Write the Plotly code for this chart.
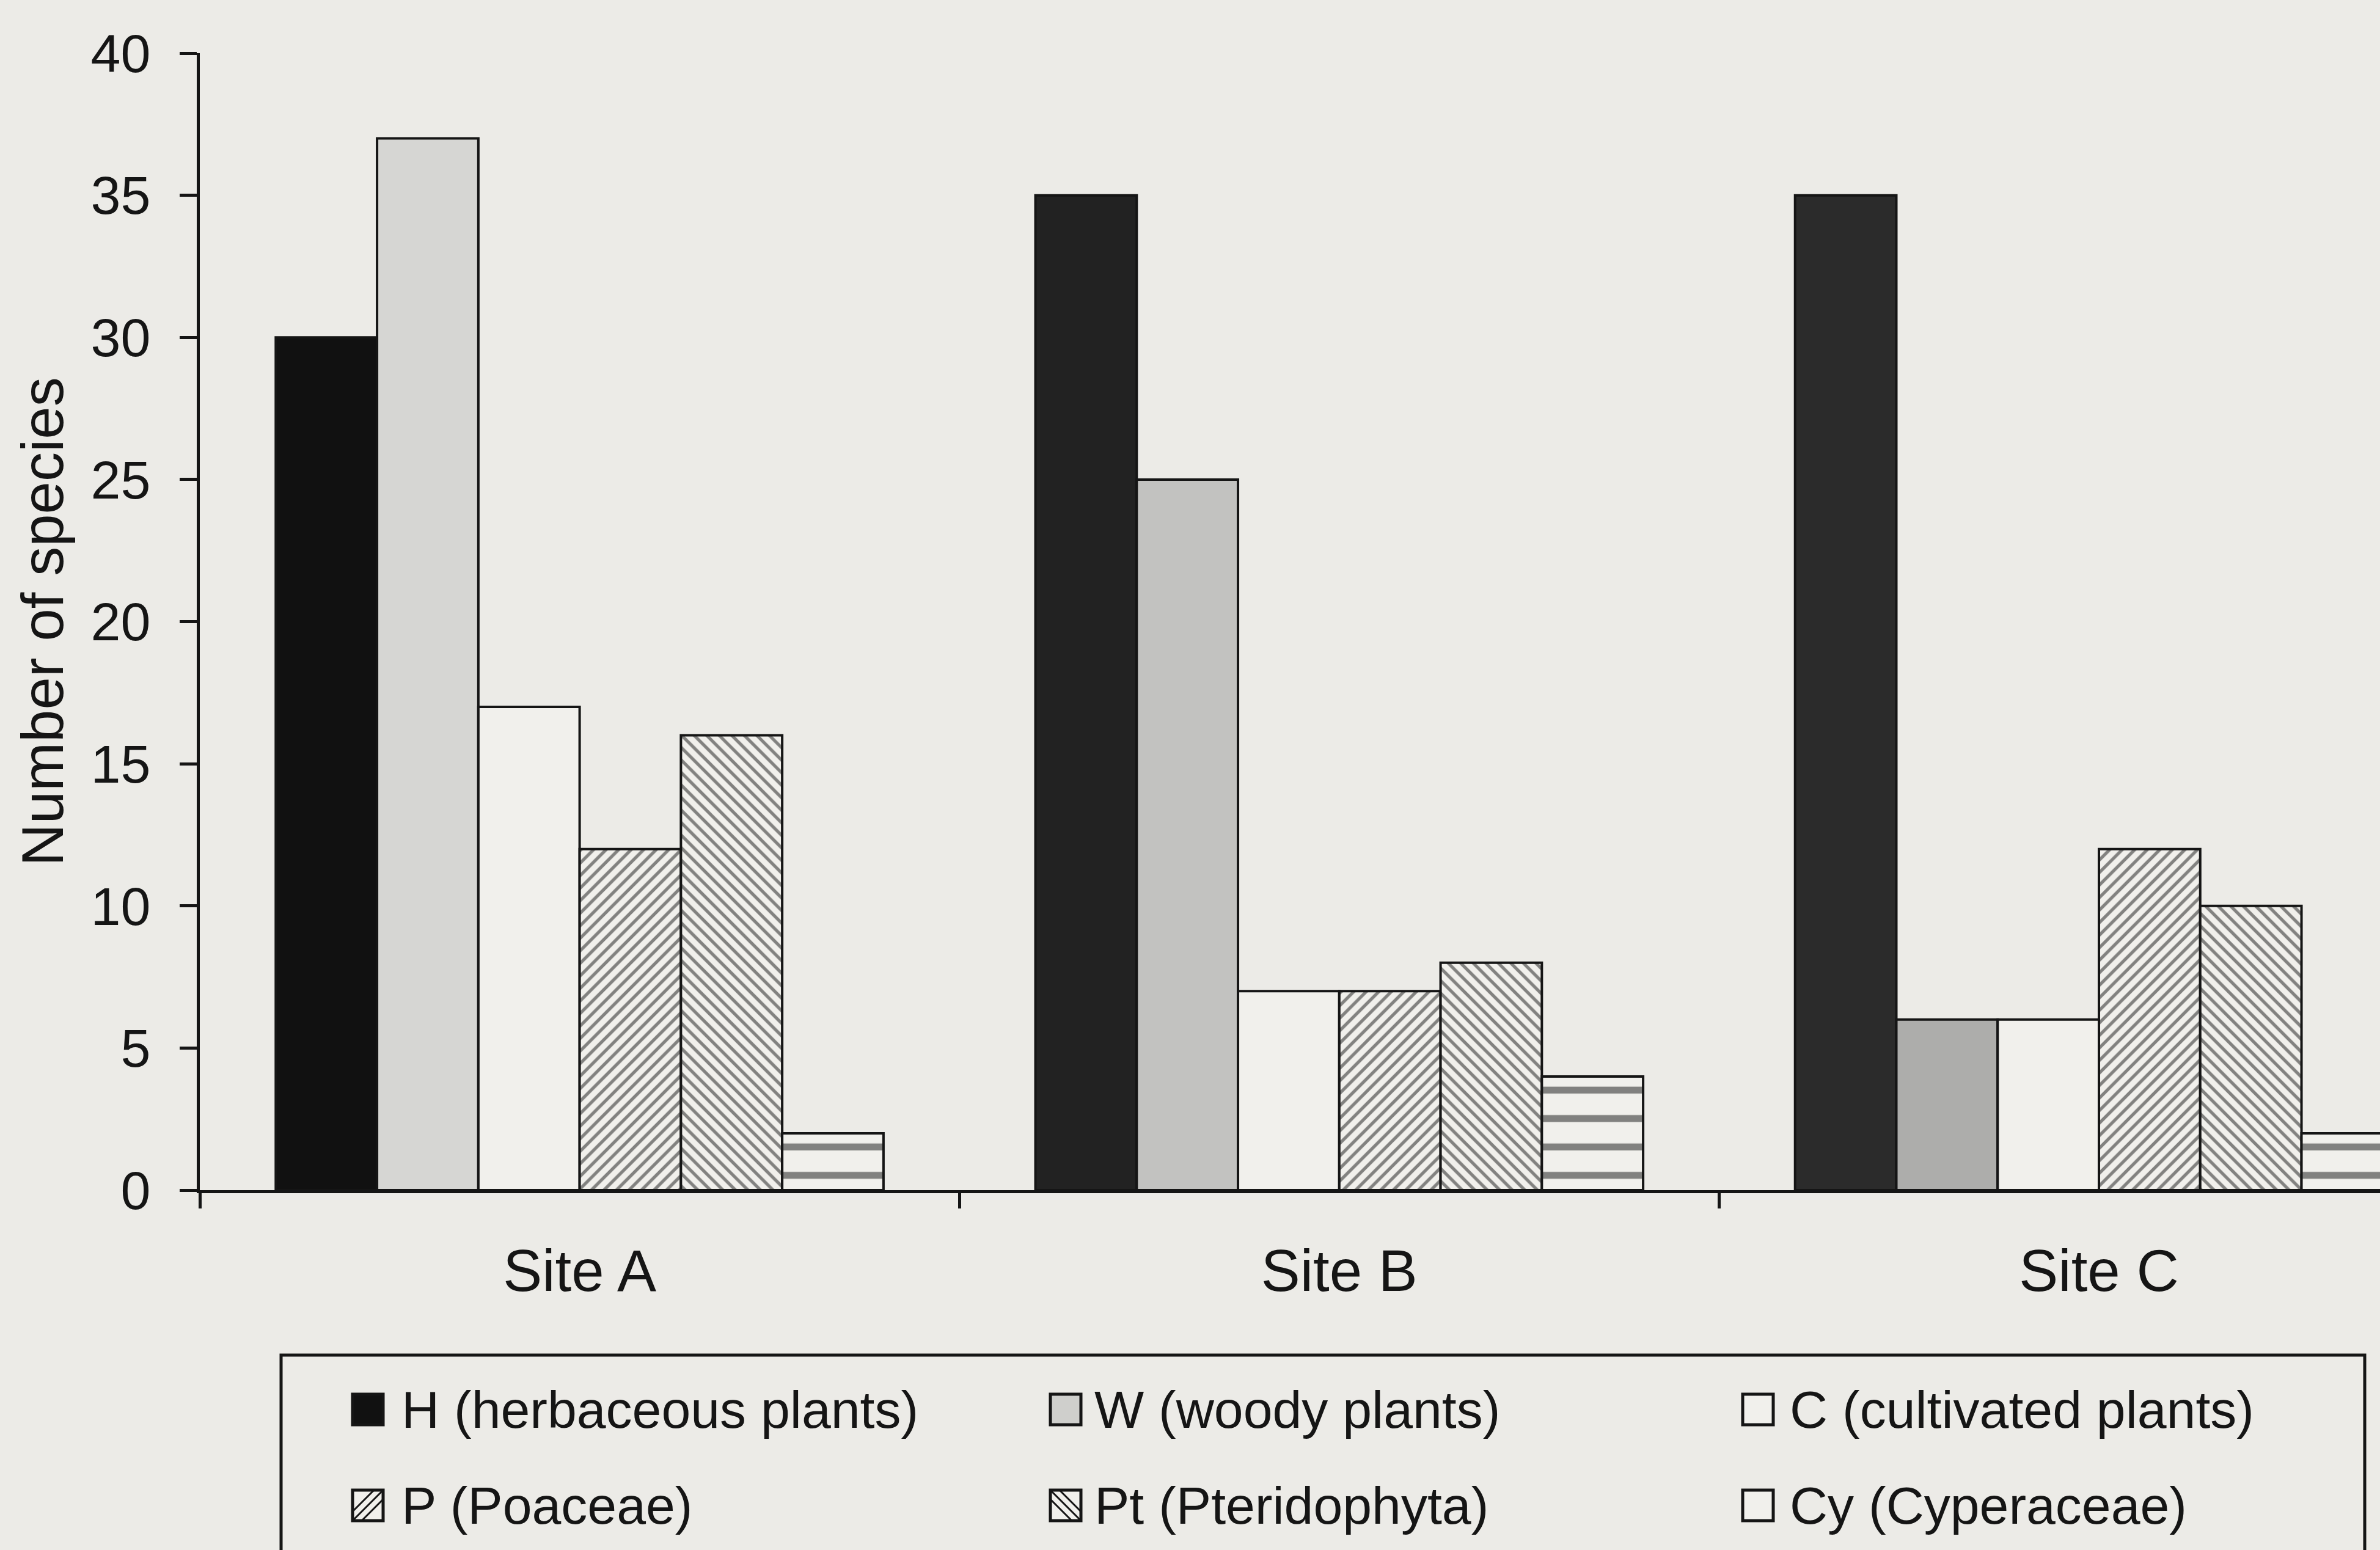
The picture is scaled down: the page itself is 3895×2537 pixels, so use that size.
import plotly.graph_objects as go

# ---- data -------------------------------------------------------------
SITES = ["Site A", "Site B", "Site C"]
GROUP_LABELS = [
    "H (herbaceous plants)",
    "W (woody plants)",
    "C (cultivated plants)",
    "P (Poaceae)",
    "Pt (Pteridophyta)",
    "Cy (Cyperaceae)",
]
H_VALUES = [30, 35, 35]
W_VALUES = [37, 25, 6]
C_VALUES = [17, 7, 6]
P_VALUES = [12, 7, 12]
PT_VALUES = [16, 8, 10]
CY_VALUES = [2, 4, 2]
Y_TICKS = [0, 5, 10, 15, 20, 25, 30, 35, 40]
Y_TITLE = "Number of species"

SERIES = [H_VALUES, W_VALUES, C_VALUES, P_VALUES, PT_VALUES, CY_VALUES]

# ---- page geometry ------------------------------------------------------
W_PX, H_PX = 3895, 2537
M_L, M_R, M_T, M_B = 327, 0, 87, 589
PLOT_W = W_PX - M_L - M_R
PLOT_H = H_PX - M_T - M_B


def px_x(x):
    return (x - M_L) / PLOT_W


def px_y(y):
    return (H_PX - M_B - y) / PLOT_H


BG = "#ecebe7"
LIGHT = "#f1f0ec"
INK = "#151515"
FONT = "Liberation Sans, Arial, sans-serif"

# ---- bar styles -------------------------------------------------------
STYLES = [
    dict(color=["#111111", "#222222", "#2b2b2b"]),
    dict(color=["#d6d6d3", "#c2c2c0", "#adadab"]),
    dict(color=LIGHT),
    dict(color=LIGHT, pattern=dict(shape="/", size=14.5, solidity=0.36,
                                   fgcolor="#141414", bgcolor=LIGHT)),
    dict(color=LIGHT, pattern=dict(shape="\\", size=14.5, solidity=0.36,
                                   fgcolor="#141414", bgcolor=LIGHT)),
    dict(color=LIGHT, pattern=dict(shape="-", size=46.5, solidity=0.24,
                                   fgcolor="#111111", bgcolor=LIGHT)),
]

fig = go.Figure()
for label, values, style in zip(GROUP_LABELS, SERIES, STYLES):
    marker = dict(line=dict(color=INK, width=4), **style)
    fig.add_trace(go.Bar(x=SITES, y=values, name=label, marker=marker,
                         showlegend=False, cliponaxis=True))

x_range = [-0.5, 2.37]
boundaries = [i - 0.5 for i in range(len(SITES))]

fig.update_layout(
    width=W_PX,
    height=H_PX,
    margin=dict(l=M_L, r=M_R, t=M_T, b=M_B, autoexpand=False),
    paper_bgcolor=BG,
    plot_bgcolor=BG,
    barmode="group",
    bargap=0.2,
    bargroupgap=0,
    font=dict(family=FONT, color=INK),
    xaxis=dict(
        type="category",
        categoryorder="array",
        categoryarray=SITES,
        range=x_range,
        showline=True, linecolor=INK, linewidth=5,
        ticks="outside", tickson="boundaries", ticklen=25, tickwidth=5,
        tickcolor=INK,
        tickfont=dict(size=96, family=FONT, color=INK),
        ticklabelstandoff=45,
        showgrid=False, zeroline=False,
    ),
    yaxis=dict(
        range=[0, 40],
        tickmode="array", tickvals=Y_TICKS,
        showline=True, linecolor=INK, linewidth=5,
        ticks="outside", ticklen=28, tickwidth=5, tickcolor=INK,
        tickfont=dict(size=88, family=FONT, color=INK),
        ticklabelstandoff=30,
        title=dict(text=Y_TITLE, font=dict(size=96, family=FONT, color=INK),
                   standoff=14),
        showgrid=False, zeroline=False,
    ),
    # companion axes carrying the inner half of the crossing tick marks
    xaxis2=dict(
        overlaying="x", anchor="y", side="bottom",
        range=x_range, tickmode="array", tickvals=boundaries,
        ticks="inside", ticklen=30, tickwidth=5, tickcolor=INK,
        showticklabels=False, showline=False, showgrid=False, zeroline=False,
    ),
    yaxis2=dict(
        overlaying="y", anchor="x", side="left",
        range=[0, 40], tickmode="array", tickvals=Y_TICKS,
        ticks="inside", ticklen=30, tickwidth=5, tickcolor=INK,
        showticklabels=False, showline=False, showgrid=False, zeroline=False,
    ),
)

# ---- key below the chart ---------------------------------------------
shapes = [
    dict(type="rect", xref="paper", yref="paper",
         x0=px_x(460), x1=px_x(3870), y0=px_y(2218), y1=px_y(2640),
         line=dict(color=INK, width=5), fillcolor="rgba(0,0,0,0)"),
]
annotations = []

col_icon = [577, 1719, 2852]
col_text = [655, 1789, 2927]
row_mid = [2307, 2464]
icon = 50
icon_fill = ["#111111", "#cfcfcc", LIGHT, LIGHT, LIGHT, LIGHT]
icon_hatch = [None, None, None, "/", "\\", None]

for k, label in enumerate(GROUP_LABELS):
    r, c = divmod(k, 3)
    x0, x1 = col_icon[c], col_icon[c] + icon
    y0, y1 = row_mid[r] - icon / 2, row_mid[r] + icon / 2
    shapes.append(dict(type="rect", xref="paper", yref="paper",
                       x0=px_x(x0), x1=px_x(x1), y0=px_y(y1), y1=px_y(y0),
                       line=dict(color=INK, width=5), fillcolor=icon_fill[k]))
    if icon_hatch[k]:
        segs = []
        for off in (-0.3, 0.0, 0.3):
            if icon_hatch[k] == "/":
                ax, ay = x0 + icon * max(0, off), y1 - icon * max(0, -off)
                bx, by = x1 - icon * max(0, -off), y0 + icon * max(0, off)
            else:
                ax, ay = x0 + icon * max(0, off), y0 + icon * max(0, -off)
                bx, by = x1 - icon * max(0, -off), y1 - icon * max(0, off)
            segs.append(f"M{px_x(ax)},{px_y(ay)} L{px_x(bx)},{px_y(by)}")
        shapes.append(dict(type="path", xref="paper", yref="paper",
                           path=" ".join(segs),
                           line=dict(color=INK, width=3)))
    annotations.append(dict(
        text=label, xref="paper", yref="paper",
        x=px_x(col_text[c]), y=px_y(row_mid[r]),
        xanchor="left", yanchor="middle", showarrow=False,
        font=dict(size=86, family=FONT, color=INK),
    ))

fig.update_layout(shapes=shapes, annotations=annotations)

fig.write_html("out.html")
